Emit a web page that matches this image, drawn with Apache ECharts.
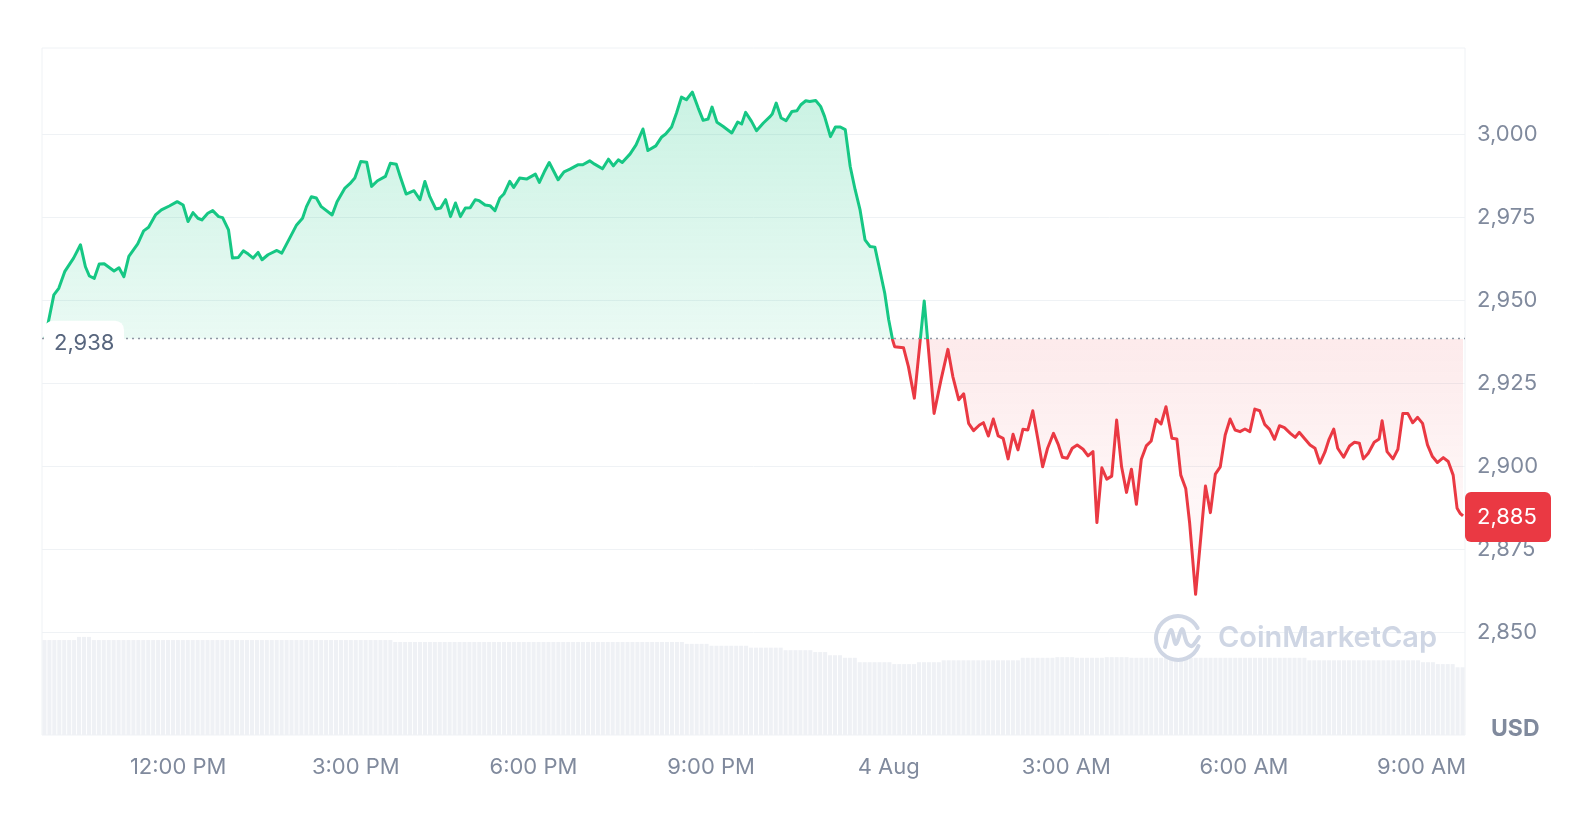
<!DOCTYPE html>
<html><head><meta charset="utf-8">
<script src="https://cdn.jsdelivr.net/npm/echarts@6/dist/echarts.min.js"></script>
<style>html,body{margin:0;padding:0;background:#fff}#chart{width:1579px;height:823px}</style>
</head><body><div id="chart"></div>
<script>
// Opening (reference) price of the 24h window
const BASE_PRICE = 2938.4;
// [minutes since 3 Aug 00:00, price in USD]
const priceData = [
[585,2938.4],[594,2951.6],[599,2953.6],[605,2958.6],[614,2962.7],[621,2966.7],[626,2960.1],[630,2957.3],[635,2956.6],[640,2960.9],
[645,2961.0],[655,2958.8],[660,2959.8],[665,2957.1],[670,2963.2],[679,2967.0],[685,2970.9],[690,2972.0],[697,2975.7],[703,2977.2],
[711,2978.4],[719,2979.7],[725,2978.7],[730,2973.7],[735,2976.4],[740,2974.7],[744,2974.2],[750,2976.2],[755,2977.0],[761,2975.2],
[765,2974.9],[771,2971.2],[775,2962.7],[781,2962.9],[786,2964.9],[791,2963.9],[796,2962.7],[801,2964.4],[805,2962.2],[811,2963.7],
[820,2965.0],[825,2964.2],[833,2968.7],[840,2972.7],[846,2974.7],[850,2978.2],[855,2981.2],[860,2980.8],[865,2978.2],[876,2975.7],
[881,2979.7],[889,2983.8],[894,2985.1],[899,2986.8],[905,2991.8],[911,2991.6],[916,2984.3],[922,2986.0],[930,2987.3],[935,2991.3],
[941,2991.0],[945,2987.3],[951,2982.0],[959,2983.0],[965,2980.3],[970,2985.8],[975,2981.2],[981,2977.5],[986,2977.8],[991,2980.3],
[996,2975.2],[1001,2979.3],[1006,2975.2],[1011,2977.8],[1016,2977.9],[1021,2980.3],[1025,2980.0],[1031,2978.7],[1036,2978.5],[1041,2977.0],
[1046,2980.8],[1050,2982.0],[1056,2985.8],[1060,2984.0],[1066,2986.8],[1073,2986.5],[1082,2988.0],[1086,2985.5],[1091,2988.7],[1096,2991.5],
[1105,2986.3],[1111,2988.7],[1117,2989.5],[1125,2990.8],[1130,2990.8],[1137,2992.0],[1142,2991.0],[1150,2989.6],[1156,2992.5],[1161,2990.5],
[1166,2992.3],[1170,2991.5],[1178,2994.1],[1184,2996.8],[1191,3001.6],[1196,2995.1],[1204,2996.5],[1210,2999.2],[1214,3000.1],[1220,3002.2],
[1225,3006.4],[1230,3011.2],[1235,3010.4],[1241,3012.7],[1247,3007.9],[1252,3004.2],[1257,3004.6],[1261,3008.2],[1266,3003.6],[1272,3002.4],
[1281,3000.4],[1287,3003.7],[1291,3003.1],[1295,3006.6],[1301,3003.9],[1306,3001.1],[1313,3003.4],[1320,3005.4],[1322,3006.1],[1326,3009.4],
[1331,3004.9],[1336,3004.1],[1342,3006.9],[1347,3007.1],[1351,3008.9],[1356,3010.1],[1360,3009.9],[1366,3010.2],[1371,3008.4],[1375,3005.4],
[1381,2999.3],[1386,3002.2],[1391,3002.2],[1396,3001.4],[1401,2990.3],[1406,2983.3],[1411,2977.2],[1416,2968.2],[1421,2966.2],[1426,2966.0],
[1431,2959.1],[1436,2952.1],[1440,2944.1],[1444,2938.0],[1446,2936.0],[1455,2935.7],[1460,2930.0],[1466,2920.5],[1476,2949.8],[1486,2915.9],
[1493,2926.0],[1500,2935.2],[1505,2927.0],[1511,2920.0],[1516,2921.8],[1521,2912.9],[1526,2910.7],[1532,2912.4],[1536,2913.1],[1541,2909.1],
[1546,2914.2],[1551,2909.1],[1556,2908.4],[1561,2902.2],[1566,2909.6],[1571,2904.9],[1576,2911.1],[1581,2910.9],[1586,2916.7],[1591,2908.4],
[1596,2899.8],[1601,2905.4],[1607,2909.9],[1612,2906.4],[1616,2902.7],[1621,2902.4],[1626,2905.4],[1631,2906.4],[1637,2905.1],[1642,2903.1],
[1647,2904.4],[1651,2883.0],[1656,2899.5],[1661,2896.1],[1666,2897.0],[1671,2913.9],[1676,2899.8],[1681,2892.1],[1686,2899.1],[1691,2888.5],
[1696,2902.1],[1701,2906.1],[1706,2907.6],[1711,2914.1],[1716,2912.7],[1721,2917.9],[1727,2908.4],[1732,2908.2],[1736,2897.3],[1741,2893.3],
[1745,2882.8],[1751,2861.4],[1761,2894.0],[1766,2886.0],[1771,2897.6],[1776,2899.8],[1781,2909.4],[1786,2914.2],[1791,2910.9],[1796,2910.4],
[1801,2911.2],[1806,2910.4],[1811,2917.2],[1816,2916.7],[1821,2912.6],[1826,2911.1],[1831,2908.1],[1836,2912.2],[1841,2911.6],[1847,2909.9],
[1852,2908.7],[1856,2910.2],[1862,2908.1],[1867,2906.4],[1872,2905.4],[1877,2900.9],[1882,2904.2],[1886,2907.9],[1891,2911.2],[1895,2905.4],
[1901,2902.7],[1907,2906.1],[1912,2907.2],[1917,2906.9],[1921,2902.2],[1926,2903.9],[1932,2907.2],[1937,2908.2],[1940,2913.7],[1945,2904.4],
[1951,2902.2],[1956,2905.1],[1961,2915.9],[1966,2915.9],[1971,2913.1],[1976,2914.7],[1981,2912.9],[1986,2906.4],[1991,2902.9],[1996,2901.1],
[2002,2902.6],[2007,2901.4],[2012,2897.3],[2016,2887.3],[2019,2885.8],[2022,2885.0]
];
// 24h volume (billions USD), one bar per 5 minutes
const volumeData = [
15.0,15.0,15.0,15.0,15.0,15.0,15.0,15.5,15.5,15.5,15.0,15.0,
15.0,15.0,15.0,15.0,15.0,15.0,15.0,15.0,15.0,15.0,15.0,15.0,
15.0,15.0,15.0,15.0,15.0,15.0,15.0,15.0,15.0,15.0,15.0,15.0,
15.0,15.0,15.0,15.0,15.0,15.0,15.0,15.0,15.0,15.0,15.0,15.0,
15.0,15.0,15.0,15.0,15.0,15.0,15.0,15.0,15.0,15.0,15.0,15.0,
15.0,15.0,15.0,15.0,15.0,15.0,15.0,15.0,15.0,15.0,15.0,14.7,
14.7,14.7,14.7,14.7,14.7,14.7,14.7,14.7,14.7,14.7,14.7,14.7,
14.7,14.7,14.7,14.7,14.7,14.7,14.7,14.7,14.7,14.7,14.7,14.7,
14.7,14.7,14.7,14.7,14.7,14.7,14.7,14.7,14.7,14.7,14.7,14.7,
14.7,14.7,14.7,14.7,14.7,14.7,14.7,14.7,14.7,14.7,14.7,14.7,
14.7,14.7,14.7,14.7,14.7,14.7,14.7,14.7,14.7,14.7,14.4,14.4,
14.4,14.4,14.4,14.1,14.1,14.1,14.1,14.1,14.1,14.1,14.1,13.8,
13.8,13.8,13.8,13.8,13.8,13.8,13.4,13.4,13.4,13.4,13.4,13.4,
13.1,13.1,13.1,12.6,12.6,12.6,12.2,12.2,12.2,11.5,11.5,11.5,
11.5,11.5,11.5,11.5,11.2,11.2,11.2,11.2,11.2,11.5,11.5,11.5,
11.5,11.5,11.8,11.8,11.8,11.8,11.8,11.8,11.8,11.8,11.8,11.8,
11.8,11.8,11.8,11.8,11.8,11.8,12.2,12.2,12.2,12.2,12.2,12.2,
12.2,12.3,12.3,12.3,12.3,12.2,12.2,12.2,12.2,12.2,12.2,12.3,
12.3,12.3,12.3,12.3,12.2,12.2,12.2,12.2,12.2,12.2,12.2,12.2,
12.2,12.2,12.2,12.2,12.2,12.2,12.2,12.2,12.2,12.2,12.2,12.2,
12.2,12.2,12.2,12.2,12.2,12.2,12.2,12.2,12.2,12.2,12.2,12.2,
12.2,12.2,12.2,12.2,11.8,11.8,11.8,11.8,11.8,11.8,11.8,11.8,
11.8,11.8,11.8,11.8,11.8,11.8,11.8,11.8,11.8,11.8,11.8,11.8,
11.8,11.8,11.8,11.5,11.5,11.5,11.2,11.2,11.2,11.2,10.7,10.7
];
const yTickValues = [2850, 2875, 2900, 2925, 2950, 2975, 3000];
const xTickMinutes = [720, 900, 1080, 1260, 1440, 1620, 1800, 1980];
const xTickLabels = ['12:00 PM', '3:00 PM', '6:00 PM', '9:00 PM', '4 Aug', '3:00 AM', '6:00 AM', '9:00 AM'];
const X_MIN = 582, X_MAX = 2024;
const Y_MIN = 2819, Y_MAX = 3026;
const VOL_MAX = 15.8;

const GREEN = '#16c784', RED = '#ea3943';
const AXIS_COLOR = '#808a9d';
const FONT = 'Inter, "Noto Sans", sans-serif';
const fmt = v => Math.round(v).toLocaleString('en-US');

const chart = echarts.init(document.getElementById('chart'), null, {renderer: 'canvas'});
chart.setOption({
  animation: false,
  textStyle: {fontFamily: FONT},
  grid: [
    {left: 42, right: 114, top: 48, bottom: 88, show: true, borderColor: '#eff2f5', borderWidth: 1, backgroundColor: 'transparent'},
    {left: 42, right: 114, top: 635, bottom: 88}
  ],
  xAxis: [
    {type: 'value', gridIndex: 0, min: X_MIN, max: X_MAX,
     axisLine: {show: false}, axisTick: {show: false, customValues: xTickMinutes}, splitLine: {show: false},
     axisLabel: {customValues: xTickMinutes, formatter: v => xTickLabels[xTickMinutes.indexOf(v)] || '',
                 color: AXIS_COLOR, fontSize: 22, margin: 21, fontFamily: FONT}},
    {type: 'category', gridIndex: 1, data: volumeData.map((_, i) => i), show: false}
  ],
  yAxis: [
    {type: 'value', gridIndex: 0, position: 'right', min: Y_MIN, max: Y_MAX,
     axisLine: {show: false}, axisTick: {show: false, customValues: yTickValues},
     splitLine: {show: true, lineStyle: {color: '#eff2f5', width: 1}},
     axisLabel: {customValues: yTickValues, formatter: v => fmt(v), color: AXIS_COLOR, fontSize: 22, margin: 12, fontFamily: FONT}},
    {type: 'value', gridIndex: 1, min: 0, max: VOL_MAX, show: false}
  ],
  series: [
    {id: 'vol', type: 'bar', xAxisIndex: 1, yAxisIndex: 1, data: volumeData, silent: true,
     itemStyle: {color: '#eff1f5'}, barCategoryGap: '18%', z: 1},
    {id: 'price', type: 'line', xAxisIndex: 0, yAxisIndex: 0, data: priceData, showSymbol: false, symbol: 'none',
     silent: true, z: 3,
     lineStyle: {width: 3, color: GREEN, join: 'round'},
     areaStyle: {origin: BASE_PRICE, color: 'rgba(22,199,132,0.2)'},
     markLine: {silent: true, symbol: 'none', label: {show: false},
       lineStyle: {color: '#8f96a3', width: 1.3, type: [2, 4]},
       data: [{yAxis: BASE_PRICE}]}}
  ]
});

// Second pass: colour split at the opening price, labels placed on the axis scale
const px = (x, y) => chart.convertToPixel({gridIndex: 0}, [x, y]);
const left = px(X_MIN, BASE_PRICE)[0];
const right = px(X_MAX, BASE_PRICE)[0];
const baseY = px(X_MIN, BASE_PRICE)[1];
const topY = px(X_MIN, 3015)[1];
const botY = px(X_MIN, 2860)[1];
const off = (baseY - topY) / (botY - topY);
const last = priceData[priceData.length - 1];
const lastY = px(last[0], last[1])[1];

const lineGrad = {type: 'linear', global: true, x: 0, y: topY, x2: 0, y2: botY, colorStops: [
  {offset: 0, color: GREEN}, {offset: off, color: GREEN}, {offset: off, color: RED}, {offset: 1, color: RED}]};
const areaGrad = {type: 'linear', global: true, x: 0, y: topY, x2: 0, y2: botY, colorStops: [
  {offset: 0, color: 'rgba(22,199,132,0.33)'}, {offset: off, color: 'rgba(22,199,132,0.13)'},
  {offset: off, color: 'rgba(234,57,67,0.15)'}, {offset: 1, color: 'rgba(234,57,67,0.01)'}]};

const wmX = 1178, wmY = 638, wmR = 22, WM = '#cfd6e4';
chart.setOption({
  series: [{id: 'price', lineStyle: {color: lineGrad}, areaStyle: {color: areaGrad}}],
  graphic: [
    {type: 'rect', z: 50, shape: {x: left + 2, y: baseY - 18, width: 80, height: 42, r: 9},
     style: {fill: '#ffffff'}},
    {type: 'text', z: 51, x: left + 12, y: baseY + 5,
     style: {text: fmt(BASE_PRICE), fill: '#58667e', font: '22px ' + FONT, align: 'left', verticalAlign: 'middle', textAlign: 'left', textVerticalAlign: 'middle'}},
    {type: 'rect', z: 50, shape: {x: right, y: lastY - 24, width: 86, height: 50, r: 6},
     style: {fill: RED}},
    {type: 'text', z: 51, x: right + 12, y: lastY + 1,
     style: {text: fmt(last[1]), fill: '#ffffff', font: '22px ' + FONT, align: 'left', verticalAlign: 'middle', textAlign: 'left', textVerticalAlign: 'middle'}},
    {type: 'text', z: 51, x: right + 26, y: 729,
     style: {text: 'USD', fill: AXIS_COLOR, font: 'bold 23px ' + FONT, align: 'left', verticalAlign: 'middle', textAlign: 'left', textVerticalAlign: 'middle'}},
    {type: 'arc', z: 40, shape: {cx: wmX, cy: wmY, r: wmR, startAngle: Math.PI * 0.12, endAngle: Math.PI * 1.85, clockwise: true},
     style: {stroke: WM, lineWidth: 4, fill: null, lineCap: 'round'}},
    {type: 'polyline', z: 40, shape: {smooth: 0.35, points: [[wmX - 13, wmY + 9], [wmX - 7, wmY - 8], [wmX - 2, wmY + 6], [wmX + 4, wmY - 9], [wmX + 9, wmY + 5], [wmX + 14, wmY + 8], [wmX + 21, wmY - 1]]},
     style: {stroke: WM, lineWidth: 4, fill: null, lineCap: 'round', lineJoin: 'round'}},
    {type: 'text', z: 40, x: 1218, y: wmY,
     style: {text: 'CoinMarketCap', fill: WM, font: '600 29px ' + FONT, align: 'left', verticalAlign: 'middle', textAlign: 'left', textVerticalAlign: 'middle'}}
  ]
});
</script>
</body></html>
